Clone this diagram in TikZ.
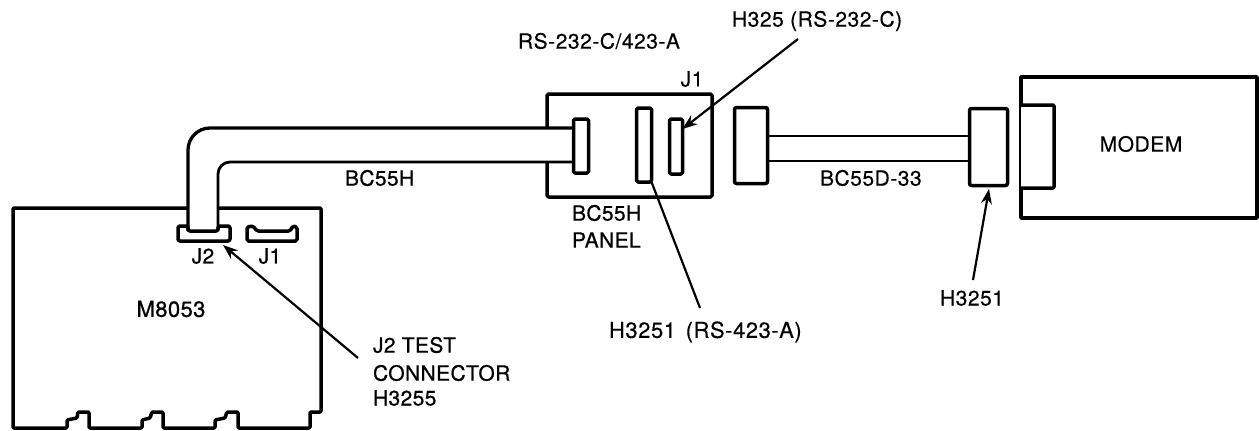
\documentclass[tikz,border=0pt]{standalone}
\usepackage{fontspec}
\setmainfont[LetterSpace=2.5,FakeBold=0.25]{TeX Gyre Heros}
\newfontfamily\heavyfont[LetterSpace=1.8,FakeBold=0.7]{TeX Gyre Heros}
\usetikzlibrary{arrows.meta}
\tikzset{
  heavy/.style={line width=3.5pt,line join=round,draw=black},
  med/.style={line width=2.8pt,line join=round,draw=black},
  slot/.style={heavy,rectangle,rounded corners=1.5pt,fill=white,inner sep=0pt,outer sep=0pt},
  lbl/.style={inner sep=0pt,outer sep=0pt,text=black,font=\fontsize{21}{27}\selectfont},
  lblb/.style={inner sep=0pt,outer sep=0pt,text=black,font=\heavyfont\fontsize{21}{27}\selectfont},
  lead/.style={line width=2.2pt,draw=black},
  leadarrow/.style={lead,-{Stealth[length=15pt,width=11pt]}}
}
\begin{document}
\begin{tikzpicture}[x=1pt,y=-1pt]
\useasboundingbox (0,0) rectangle (1259,431);
\fill[white] (0,0) rectangle (1259,431);
% M8053 board
\draw[heavy,rounded corners=1pt] (13,208) -- (321,208) -- (321,412) -- (310,412) -- (310,428)
  -- (238,428) -- (238,412) -- (227,412) -- (225,418) -- (215,420) -- (215,428)
  -- (163,428) -- (163,412) -- (152,412) -- (150,418) -- (142,420) -- (142,428)
  -- (89,428) -- (89,412) -- (78,412) -- (77,418) -- (67,420) -- (67,428)
  -- (13,428) -- cycle;
\draw[heavy,rounded corners=1.5pt] (247,227) -- (253,226) -- (257,231) -- (290,231) -- (293,226) -- (297,227) -- (297,241) -- (247,241) -- cycle;
% Panel
\node[slot,minimum width=165,minimum height=103] (panel) at (629.5,145.5) {};
% BC55H cable
\coordinate (cabOut) at (188,231);
\coordinate (cabIn) at (218,231);
\coordinate (cabEndA) at (574,128);
\coordinate (cabEndB) at (574,162);
\fill[white] (cabOut) [rounded corners=22pt] -- (188,128) -- (cabEndA) [sharp corners] -- (cabEndB) [rounded corners=12pt] -- (218,162) -- (cabIn) [sharp corners] -- cycle;
\draw[line width=3.3pt,rounded corners=22pt] (cabOut) -- (188,128) -- (cabEndA);
\draw[med,rounded corners=12pt] (cabIn) -- (218,162) -- (cabEndB);
% Connectors
\draw[heavy,rounded corners=2pt] (178,226) -- (188,226) -- (188,231) -- (218,231) -- (218,226) -- (230,226) -- (230,241) -- (178,241) -- cycle;
\node[slot,minimum width=15,minimum height=54] (conL) at (581,146) {};
\node[slot,minimum width=15,minimum height=74] (conM) at (644,145) {};
\node[slot,minimum width=13,minimum height=55] (conR) at (676,146.5) {};
\node[slot,rounded corners=2pt,minimum width=33,minimum height=76] (conO) at (751,145.5) {};
\node[slot,rounded corners=2pt,minimum width=38,minimum height=77] (conH) at (988.5,147) {};
% Modem
\coordinate (mtl) at (1021,77);
\draw[heavy] (1257,77) -- (mtl) -- (1021,218) -- (1257,218) -- cycle;
\draw[heavy,fill=white,rounded corners=1pt] (1021,105) -- (1054,105) -- (1054,188) -- (1021,188);
% BC55D-33 cable
\coordinate (dTop) at (850,136);
\coordinate (dBot) at (850,161);
\draw[med] (conO.east |- dTop) -- (conH.west |- dTop);
\draw[med] (conO.east |- dBot) -- (conH.west |- dBot);
% Labels
\node[lblb,anchor=center,font=\heavyfont\fontsize{22}{27}\selectfont] (lM) at (171,309) {M8053};
\node[lblb,anchor=center] (lJ2) at (203,256) {J2};
\node[lblb,anchor=center] (lJ1) at (270,256) {J1};
\node[lblb,anchor=west] (lcab) at (345,178) {BC55H};
\node[lblb,anchor=west] (lt1) at (373,345) {J2 TEST};
\node[lblb,anchor=west] (lt2) at (373,373) {CONNECTOR};
\node[lblb,anchor=west] (lt3) at (373,398) {H3255};
\node[lbl,anchor=west] (lrs) at (518,41) {RS-232-C/423-A};
\node[lbl,anchor=west] (lh325) at (732,21) {H325 (RS-232-C)};
\node[lbl,anchor=center] (lJ1p) at (692,79) {J1};
\node[lblb,anchor=west] (lp1) at (572,213) {BC55H};
\node[lblb,anchor=west] (lp2) at (572,240) {PANEL};
\node[lbl,anchor=west] (ld) at (820,178) {BC55D-33};
\node[lbl,anchor=west,font=\fontsize{22}{27}\selectfont] (lh423) at (609,332) {H3251\hspace{3pt} (RS-423-A)};
\node[lbl,anchor=center] (lh) at (972,298) {H3251};
\node[lbl,anchor=center] (lmod) at (1141,144) {MODEM};
% Leaders
\coordinate (a1) at (358,358);
\coordinate (a1t) at (223,245);
\coordinate (a2) at (798,39);
\coordinate (a3) at (700,308);
\coordinate (a4) at (973,280);
\draw[leadarrow] (a1) -- (a1t);
\draw[leadarrow] (a2) -- (conR.east |- 0,129);
\draw[lead] (a3) -- (conM.south east);
\draw[leadarrow] (a4) -- (989,189);
\end{tikzpicture}
\end{document}
